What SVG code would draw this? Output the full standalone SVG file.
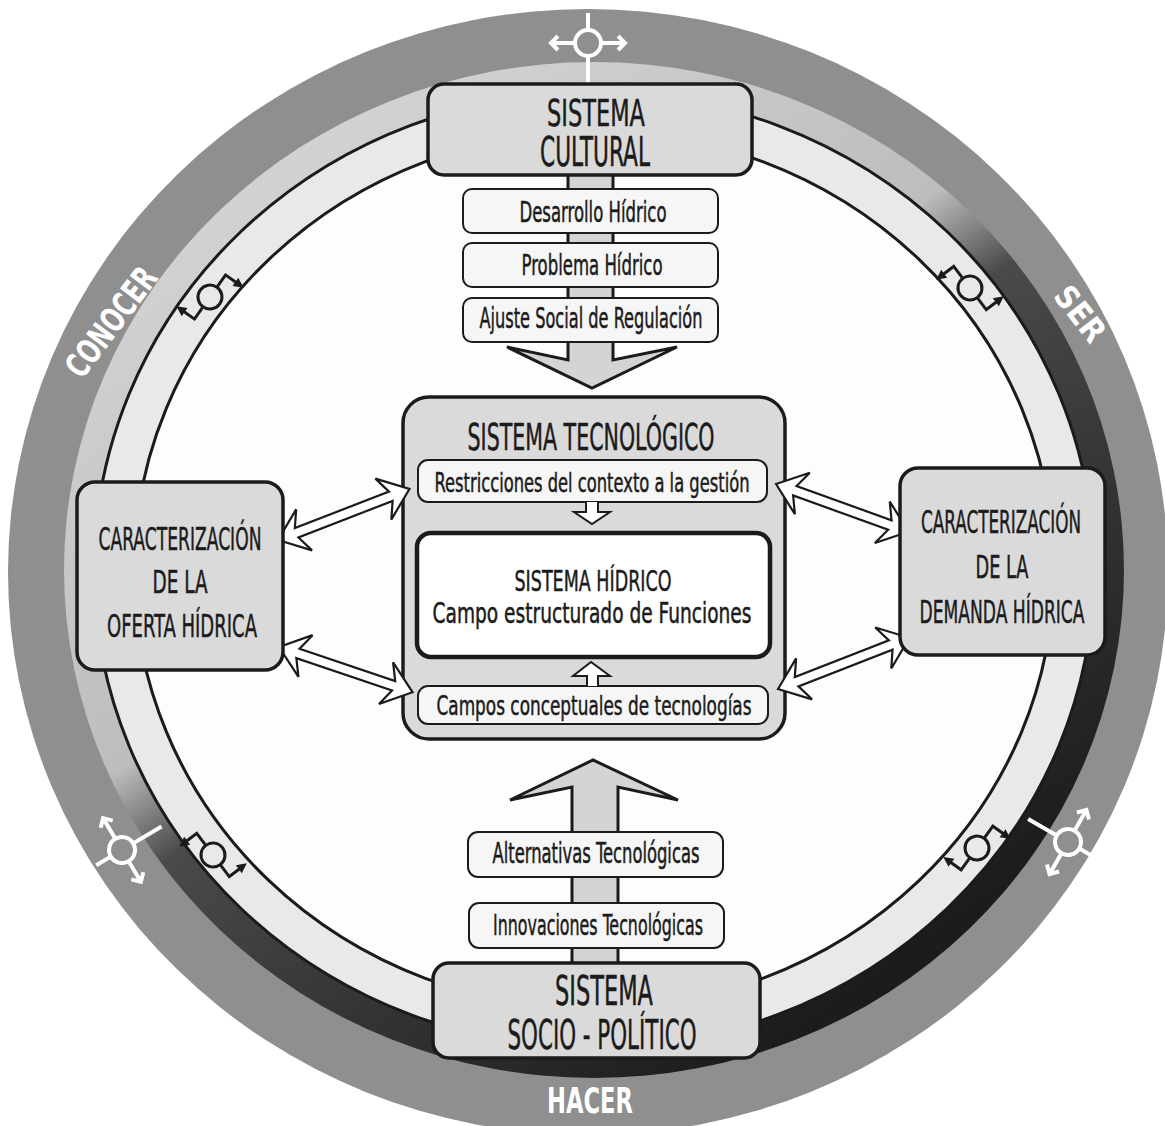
<svg xmlns="http://www.w3.org/2000/svg" xmlns:xlink="http://www.w3.org/1999/xlink" width="1165" height="1126" viewBox="0 0 1165 1126">
<defs>
<style>
.t{font-family:'Liberation Sans Narrow','DejaVu Sans Condensed','Liberation Sans',Arial,sans-serif;fill:#1b1b1b;stroke:#1b1b1b;stroke-width:0.5;text-anchor:middle}
.lbl{font-family:'DejaVu Sans Condensed','Liberation Sans Narrow','Liberation Sans',Arial,sans-serif;font-weight:bold;fill:#ffffff;text-anchor:middle}
.box{fill:#dadada;stroke:#1b1b1b;stroke-width:3.5}
.sub{fill:#f6f6f6;stroke:#1b1b1b;stroke-width:2}
.dbl{fill:#ffffff;stroke:#1b1b1b;stroke-width:2.2;stroke-linejoin:miter}
.big{fill:#d4d4d4;stroke:#1b1b1b;stroke-width:3;stroke-linejoin:miter}
.small{fill:#ffffff;stroke:#1b1b1b;stroke-width:2}
.sym{fill:none;stroke:#1b1b1b;stroke-width:3}
.wsym{fill:none;stroke:#ffffff;stroke-width:4}
</style>
<linearGradient id="shade" gradientUnits="userSpaceOnUse" x1="300" y1="150" x2="880" y2="970">
<stop offset="0" stop-color="#d2d2d2"/>
<stop offset="0.4" stop-color="#bdbdbd"/>
<stop offset="0.5" stop-color="#4a4a4a"/>
<stop offset="1" stop-color="#1c1c1c"/>
</linearGradient>
<g id="bs">
<circle r="12" class="sym"/>
<path class="sym" d="M-27,0 H-12 M12,0 H27 M-27,-1.5 V16 M27,1.5 V-16"/>
<path d="M-32,12 L-27,22 L-22,12 Z M32,-12 L27,-22 L22,-12 Z" fill="#1b1b1b"/>
</g>
<g id="ws">
<circle r="13" class="wsym"/>
<path class="wsym" d="M0,-30 V-13 M0,13 V46 M-37,0 H-13 M13,0 H37 M-30,-7 L-37,0 L-30,7 M30,-7 L37,0 L30,7"/>
</g>
<path id="da" class="dbl" d="M0,0 L28,22 L20,5 L121,5 L113,22 L141,0 L113,-22 L121,-5 L20,-5 L28,-22 Z"/>
</defs>

<rect width="1165" height="1126" fill="#ffffff"/>

<g id="wheel">
<ellipse cx="588" cy="572" rx="580" ry="563" fill="#8f8f8f"/>
<ellipse cx="594" cy="570" rx="530" ry="508" fill="url(#shade)"/>
<ellipse cx="594" cy="570" rx="500" ry="478" fill="#e9e9e9" stroke="#1b1b1b" stroke-width="3"/>
<ellipse cx="594" cy="570" rx="460" ry="439" fill="#fdfdfd" stroke="#1b1b1b" stroke-width="3"/>
<use xlink:href="#bs" href="#bs" transform="translate(970,288) rotate(53)"/>
<use xlink:href="#bs" href="#bs" transform="translate(213,855) rotate(53)"/>
<use xlink:href="#bs" href="#bs" transform="translate(210,297) rotate(125.4) scale(1,-1)"/>
<use xlink:href="#bs" href="#bs" transform="translate(977,848) rotate(126) scale(1,-1)"/>
<use xlink:href="#ws" href="#ws" transform="translate(588,43)"/>
<use xlink:href="#ws" href="#ws" transform="translate(122,850) rotate(-120.7)"/>
<use xlink:href="#ws" href="#ws" transform="translate(1068,842) rotate(119.9)"/>
<text class="lbl" transform="translate(111,322) rotate(-53)" x="0" y="12" font-size="34" textLength="128" lengthAdjust="spacingAndGlyphs">CONOCER</text>
<text class="lbl" transform="translate(1080,314) rotate(52)" x="0" y="11" font-size="32" textLength="62" lengthAdjust="spacingAndGlyphs">SER</text>
<text class="lbl" x="590" y="1113" font-size="35" textLength="86" lengthAdjust="spacingAndGlyphs">HACER</text>
</g>

<g id="sistema-tecnologico">
<rect class="box" x="403" y="397" width="382" height="342" rx="26"/>
<text class="t" x="591" y="450" font-size="38" textLength="247" lengthAdjust="spacingAndGlyphs">SISTEMA TECNOLÓGICO</text>
<g id="restricciones">
<rect class="sub" x="418" y="460" width="349" height="42" rx="10"/>
<text class="t" x="592" y="492" font-size="27" textLength="315" lengthAdjust="spacingAndGlyphs">Restricciones del contexto a la gestión</text>
</g>
<g id="sistema-hidrico">
<rect x="417" y="533" width="353" height="124" rx="14" fill="#ffffff" stroke="#1b1b1b" stroke-width="4.5"/>
<text class="t" x="593" y="591" font-size="29" textLength="157" lengthAdjust="spacingAndGlyphs">SISTEMA HÍDRICO</text>
<text class="t" x="592" y="623" font-size="29" textLength="319" lengthAdjust="spacingAndGlyphs">Campo estructurado de Funciones</text>
</g>
<g id="campos">
<rect class="sub" x="418" y="686" width="350" height="38" rx="10"/>
<text class="t" x="594" y="715" font-size="27" textLength="315" lengthAdjust="spacingAndGlyphs">Campos conceptuales de tecnologías</text>
</g>
</g>

<g id="connectors">
<path class="big" d="M568,175 L568,360 L507,347 L592,388 L677,347 L613,360 L613,175"/>
<path class="big" d="M572,963 L572,787 L510,800 L593,760 L678,800 L618,787 L618,963"/>
<use xlink:href="#da" href="#da" transform="translate(278,540) rotate(-21.2)"/>
<use xlink:href="#da" href="#da" transform="translate(279,647) rotate(18.7)"/>
<use xlink:href="#da" href="#da" transform="translate(776,484) rotate(19.8)"/>
<use xlink:href="#da" href="#da" transform="translate(778,689) rotate(-21.3)"/>
<path class="small" d="M586,502 L586,512 L574,512 L592,524 L610,512 L598,512 L598,502"/>
<path class="small" d="M587,686 L587,676 L573,676 L591,662 L610,676 L598,676 L598,686"/>
</g>

<g id="sistema-cultural">
<rect class="box" x="428" y="84" width="324" height="91" rx="16"/>
<text class="t" x="596" y="126" font-size="38" textLength="98" lengthAdjust="spacingAndGlyphs">SISTEMA</text>
<text class="t" x="595" y="166" font-size="40" textLength="110" lengthAdjust="spacingAndGlyphs">CULTURAL</text>
</g>
<g id="desarrollo-hidrico">
<rect class="sub" x="463" y="189" width="255" height="44" rx="9"/>
<text class="t" x="593" y="222" font-size="29" textLength="147" lengthAdjust="spacingAndGlyphs">Desarrollo Hídrico</text>
</g>
<g id="problema-hidrico">
<rect class="sub" x="463" y="243" width="255" height="44" rx="9"/>
<text class="t" x="592" y="275" font-size="29" textLength="141" lengthAdjust="spacingAndGlyphs">Problema Hídrico</text>
</g>
<g id="ajuste-social">
<rect class="sub" x="463" y="298" width="255" height="44" rx="9"/>
<text class="t" x="591" y="328" font-size="29" textLength="223" lengthAdjust="spacingAndGlyphs">Ajuste Social de Regulación</text>
</g>

<g id="oferta-hidrica">
<rect class="box" x="77" y="482" width="206" height="188" rx="18"/>
<text class="t" x="180" y="550" font-size="32" textLength="163" lengthAdjust="spacingAndGlyphs">CARACTERIZACIÓN</text>
<text class="t" x="180" y="593" font-size="32" textLength="55" lengthAdjust="spacingAndGlyphs">DE LA</text>
<text class="t" x="182" y="637" font-size="32" textLength="150" lengthAdjust="spacingAndGlyphs">OFERTA HÍDRICA</text>
</g>

<g id="demanda-hidrica">
<rect class="box" x="900" y="468" width="205" height="187" rx="18"/>
<text class="t" x="1001" y="533" font-size="32" textLength="160" lengthAdjust="spacingAndGlyphs">CARACTERIZACIÓN</text>
<text class="t" x="1002" y="578" font-size="32" textLength="53" lengthAdjust="spacingAndGlyphs">DE LA</text>
<text class="t" x="1002" y="623" font-size="32" textLength="165" lengthAdjust="spacingAndGlyphs">DEMANDA HÍDRICA</text>
</g>

<g id="alternativas">
<rect class="sub" x="468" y="832" width="255" height="45" rx="10"/>
<text class="t" x="596" y="863" font-size="28" textLength="207" lengthAdjust="spacingAndGlyphs">Alternativas Tecnológicas</text>
</g>
<g id="innovaciones">
<rect class="sub" x="469" y="903" width="255" height="45" rx="10"/>
<text class="t" x="598" y="935" font-size="28" textLength="210" lengthAdjust="spacingAndGlyphs">Innovaciones Tecnológicas</text>
</g>

<g id="sistema-socio-politico">
<rect class="box" x="433" y="963" width="327" height="95" rx="16"/>
<text class="t" x="604" y="1005" font-size="40" textLength="98" lengthAdjust="spacingAndGlyphs">SISTEMA</text>
<text class="t" x="602" y="1049" font-size="40" textLength="189" lengthAdjust="spacingAndGlyphs">SOCIO - POLÍTICO</text>
</g>
</svg>
